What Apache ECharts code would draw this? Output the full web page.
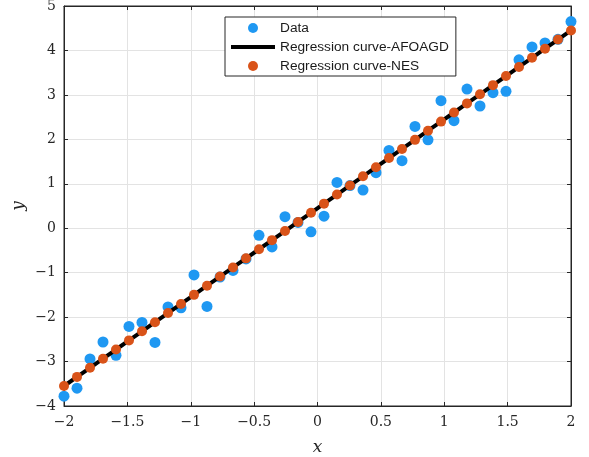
<!DOCTYPE html>
<html>
<head>
<meta charset="utf-8">
<script src="https://cdn.jsdelivr.net/npm/echarts@6/dist/echarts.min.js"></script>
<style>
html,body{margin:0;padding:0;background:#fff;}
#chart{width:589px;height:457px;}
</style>
</head>
<body>
<div id="chart"></div>
<script>
var xValues = [-2.0000,-1.8974,-1.7949,-1.6923,-1.5897,-1.4872,-1.3846,-1.2821,-1.1795,-1.0769,
  -0.9744,-0.8718,-0.7692,-0.6667,-0.5641,-0.4615,-0.3590,-0.2564,-0.1538,-0.0513,
  0.0513,0.1538,0.2564,0.3590,0.4615,0.5641,0.6667,0.7692,0.8718,0.9744,
  1.0769,1.1795,1.2821,1.3846,1.4872,1.5897,1.6923,1.7949,1.8974,2.0000];
var dataY = [-3.78,-3.60,-2.94,-2.56,-2.86,-2.21,-2.12,-2.57,-1.77,-1.79,
  -1.05,-1.76,-1.10,-0.95,-0.69,-0.16,-0.42,0.26,0.13,-0.08,
  0.27,1.03,0.96,0.86,1.25,1.75,1.52,2.29,1.99,2.87,
  2.42,3.13,2.75,3.05,3.08,3.79,4.08,4.17,4.25,4.65];
var afoagdY = [-3.550,-3.345,-3.140,-2.935,-2.729,-2.524,-2.319,-2.114,-1.909,-1.704,
  -1.499,-1.294,-1.088,-0.883,-0.678,-0.473,-0.268,-0.063,0.142,0.347,
  0.553,0.758,0.963,1.168,1.373,1.578,1.783,1.988,2.194,2.399,
  2.604,2.809,3.014,3.219,3.424,3.629,3.835,4.040,4.245,4.450];
var nesY = [-3.550,-3.345,-3.140,-2.935,-2.729,-2.524,-2.319,-2.114,-1.909,-1.704,
  -1.499,-1.294,-1.088,-0.883,-0.678,-0.473,-0.268,-0.063,0.142,0.347,
  0.553,0.758,0.963,1.168,1.373,1.578,1.783,1.988,2.194,2.399,
  2.604,2.809,3.014,3.219,3.424,3.629,3.835,4.040,4.245,4.450];
var seriesNames = ['Data','Regression curve-AFOAGD','Regression curve-NES'];

function pairs(xs, ys){ return xs.map(function(x,i){ return [x, ys[i]]; }); }
function fmt(v){ return String(v).replace('-', '\u2212'); }

var chart = echarts.init(document.getElementById('chart'));
var serif = '"DejaVu Serif", "Liberation Serif", serif';
function axisCommon(){
  return {
    axisLine:{show:true, onZero:false, lineStyle:{color:'#262626', width:1}},
    axisTick:{show:true, inside:true, length:4, lineStyle:{color:'#262626'}}
  };
}
chart.setOption({
  backgroundColor:'#fff',
  animation:false,
  grid:{left:64, right:18, top:6, bottom:51, containLabel:false, outerBoundsMode:'none',
    show:true, borderColor:'#262626', borderWidth:1, backgroundColor:'#fff'},
  legend:{
    data:[{name:seriesNames[0], icon:'circle'},
          {name:seriesNames[1], icon:'path://M0,0 L44,0 L44,4 L0,4 Z', itemStyle:{color:'#000'}},
          {name:seriesNames[2], icon:'circle'}],
    orient:'vertical', left:225, top:17,
    itemWidth:44, itemHeight:10, itemGap:5,
    padding:[4,7,3,6],
    backgroundColor:'#fff', borderColor:'#262626', borderWidth:1,
    textStyle:{fontFamily:'"Liberation Sans", Arial, sans-serif', fontSize:13.7, color:'#1a1a1a'}
  },
  xAxis:[
    Object.assign({type:'value', min:-2, max:2, interval:0.5, position:'bottom',
      axisLabel:{fontFamily:serif, fontSize:14, color:'#262626', margin:9, formatter:fmt},
      splitLine:{show:true, lineStyle:{color:'#e3e3e3', width:1}},
      name:'x', nameLocation:'middle', nameGap:33,
      nameTextStyle:{fontFamily:serif, fontStyle:'italic', fontSize:17, color:'#262626'}}, axisCommon()),
    Object.assign({type:'value', min:-2, max:2, interval:0.5, position:'top',
      axisLabel:{show:false}, splitLine:{show:false}}, axisCommon())
  ],
  yAxis:[
    Object.assign({type:'value', min:-4, max:5, interval:1, position:'left',
      axisLabel:{fontFamily:serif, fontSize:14, color:'#262626', margin:8, formatter:fmt},
      splitLine:{show:true, lineStyle:{color:'#e3e3e3', width:1}},
      name:'y', nameLocation:'middle', nameGap:37, nameRotate:90, nameMoveOverlap:false,
      nameTextStyle:{fontFamily:serif, fontStyle:'italic', fontSize:17, color:'#262626'}}, axisCommon()),
    Object.assign({type:'value', min:-4, max:5, interval:1, position:'right',
      axisLabel:{show:false}, splitLine:{show:false}}, axisCommon())
  ],
  series:[
    {name:seriesNames[0], type:'scatter', data:pairs(xValues, dataY), symbolSize:11,
      itemStyle:{color:'#1f98f2', opacity:1}, z:2},
    {name:seriesNames[1], type:'line', data:pairs(xValues, afoagdY), showSymbol:false, symbol:'none',
      lineStyle:{color:'#000', width:4}, itemStyle:{color:'#000'}, z:3},
    {name:seriesNames[2], type:'scatter', data:pairs(xValues, nesY), symbolSize:10,
      itemStyle:{color:'#d95319', opacity:1}, z:4}
  ]
});
</script>
</body>
</html>
